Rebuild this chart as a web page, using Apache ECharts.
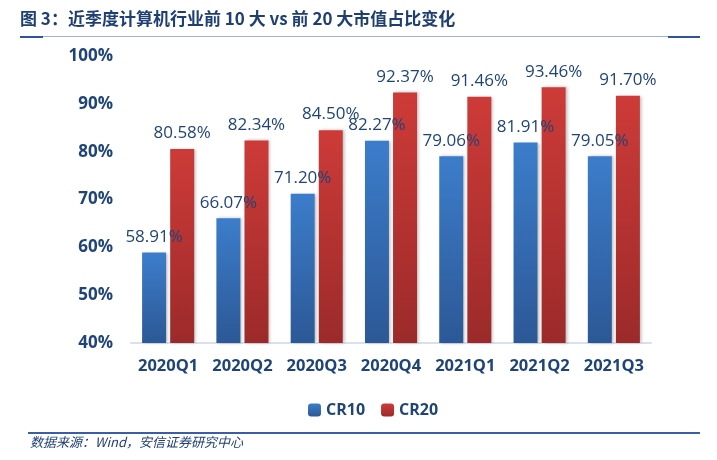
<!DOCTYPE html>
<html><head><meta charset="utf-8">
<script src="https://cdn.jsdelivr.net/npm/echarts@6/dist/echarts.min.js"></script>
<style>html,body{margin:0;padding:0;background:#fff}#c{width:717px;height:460px}</style>
</head><body><div id="c"></div>
<script>
var categories = ['2020Q1','2020Q2','2020Q3','2020Q4','2021Q1','2021Q2','2021Q3'];
var cr10 = [58.91, 66.07, 71.20, 82.27, 79.06, 81.91, 79.05];
var cr20 = [80.58, 82.34, 84.50, 92.37, 91.46, 93.46, 91.70];
var seriesNames = ['CR10', 'CR20'];
var titleText = '图 3：近季度计算机行业前 10 大 vs 前 20 大市值占比变化';
var sourceText = '数据来源：Wind，安信证券研究中心';

var chart = echarts.init(document.getElementById('c'), null, {renderer:'canvas'});
var navy = '#1F4478';
var blueGrad = new echarts.graphic.LinearGradient(0,0,0,1,[{offset:0,color:'#3C7DCB'},{offset:1,color:'#2C5896'}]);
var redGrad = new echarts.graphic.LinearGradient(0,0,0,1,[{offset:0,color:'#CD3B38'},{offset:1,color:'#9C2A2A'}]);
var labelStyle = {show:true, position:'top', distance:7, color:'#1F4478', fontSize:17,
  fontFamily:'"Open Sans","DejaVu Sans",sans-serif', formatter:function(p){return p.value.toFixed(2)+'%';}};
chart.setOption({
  animation:false,
  grid:{left:131, right:66, top:56, bottom:117},
  legend:{data:seriesNames, left:303, top:397, itemWidth:13, itemHeight:13, itemGap:16,
    textStyle:{color:navy, fontSize:16, fontWeight:'bold', fontFamily:'"Open Sans",sans-serif'}},
  xAxis:{type:'category', data:categories,
    axisLine:{lineStyle:{color:'#D9E1EE', width:2}}, axisTick:{show:false},
    axisLabel:{interval:0, color:navy, fontSize:16.5, fontWeight:'bold', margin:15, fontFamily:'"Open Sans",sans-serif'}},
  yAxis:{type:'value', min:40, max:100, interval:10,
    axisLine:{show:false}, axisTick:{show:false}, splitLine:{show:false},
    axisLabel:{color:navy, fontSize:17, fontWeight:'bold', margin:18, fontFamily:'"Open Sans",sans-serif',
      formatter:'{value}%'}},
  series:[
    {name:seriesNames[0], type:'bar', data:cr10, barWidth:24, barGap:'17%',
     itemStyle:{color:blueGrad, shadowColor:'rgba(0,0,0,0.25)', shadowBlur:3, shadowOffsetX:2}, label:labelStyle},
    {name:seriesNames[1], type:'bar', data:cr20, barWidth:24,
     itemStyle:{color:redGrad, shadowColor:'rgba(0,0,0,0.25)', shadowBlur:3, shadowOffsetX:2}, label:labelStyle}
  ],
  graphic:[
    {type:'text', left:20, top:10, style:{text:titleText, fill:'#1F3F73',
      font:'bold 17px "Noto Sans CJK SC", sans-serif'}},
    {type:'rect', shape:{x:20, y:36, width:680, height:1}, style:{fill:'#9DB2D6'}},
    {type:'rect', shape:{x:20, y:36, width:23, height:2}, style:{fill:'#2F5597'}},
    {type:'rect', shape:{x:668, y:36, width:32, height:2}, style:{fill:'#2F5597'}},
    {type:'rect', shape:{x:28, y:432, width:672, height:2}, style:{fill:'#3A5DA8'}},
    {type:'text', left:30, top:436, style:{text:sourceText, fill:'#1F3F73',
      font:'italic 13px "Noto Sans CJK SC", sans-serif'}}
  ]
});
</script></body></html>
